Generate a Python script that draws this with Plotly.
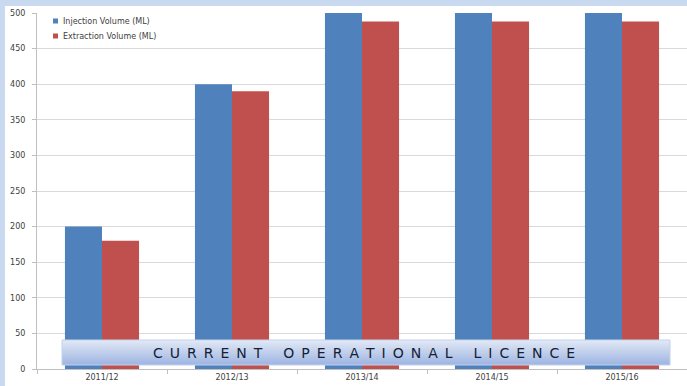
import plotly.graph_objects as go

categories = ["2011/12", "2012/13", "2013/14", "2014/15", "2015/16"]
injection = [200, 400, 500, 500, 500]
extraction = [180, 390, 488, 488, 488]
series_names = ["Injection Volume (ML)", "Extraction Volume (ML)"]
series_colors = ["#4f81bd", "#c0504d"]
banner_text = "CURRENT OPERATIONAL LICENCE"

W, H = 687, 386
ml, mr, mt, mb = 37, 0, 13, 17
pw = W - ml - mr
ph = H - mt - mb

def px_to_paper_x(px):
    return (px - ml) / pw

def px_to_paper_y(py):
    return (H - mb - py) / ph

fig = go.Figure()
for name, vals, col in zip(series_names, [injection, extraction], series_colors):
    fig.add_trace(go.Bar(x=categories, y=vals, name=name, showlegend=False,
                         marker=dict(color=col, line=dict(width=0))))

shapes = []
annotations = []
# light blue frame on left and top
frame_col = "#c9d9f0"
shapes.append(dict(type="rect", xref="paper", yref="paper",
                   x0=px_to_paper_x(0), x1=px_to_paper_x(5),
                   y0=px_to_paper_y(H), y1=px_to_paper_y(0),
                   fillcolor=frame_col, line=dict(width=0), layer="below"))
shapes.append(dict(type="rect", xref="paper", yref="paper",
                   x0=px_to_paper_x(0), x1=px_to_paper_x(W),
                   y0=px_to_paper_y(6), y1=px_to_paper_y(0),
                   fillcolor=frame_col, line=dict(width=0), layer="below"))

# legend (small squares + text)
for i, (name, col) in enumerate(zip(series_names, series_colors)):
    cy = 21 + 15 * i
    shapes.append(dict(type="rect", xref="paper", yref="paper",
                       x0=px_to_paper_x(53), x1=px_to_paper_x(58),
                       y0=px_to_paper_y(cy + 2.5), y1=px_to_paper_y(cy - 2.5),
                       fillcolor=col, line=dict(width=0)))
    annotations.append(dict(text=name, xref="paper", yref="paper",
                            x=px_to_paper_x(61), y=px_to_paper_y(cy),
                            xanchor="left", yanchor="middle", showarrow=False,
                            font=dict(size=8, color="#404040",
                                      family="DejaVu Sans, Arial, sans-serif")))

# banner gradient
bx0, bx1 = px_to_paper_x(62), px_to_paper_x(670)
by_top, by_bot = 340, 365
top_rgb = (224, 232, 246)
bot_rgb = (160, 182, 226)
n = 14
for i in range(n):
    t = i / (n - 1)
    c = tuple(int(top_rgb[k] + (bot_rgb[k] - top_rgb[k]) * t) for k in range(3))
    y0p = by_top + (by_bot - by_top) * i / n
    shapes.append(dict(type="rect", xref="paper", yref="paper",
                       x0=bx0, x1=bx1, y0=px_to_paper_y(by_bot), y1=px_to_paper_y(y0p),
                       fillcolor="rgb(%d,%d,%d)" % c, line=dict(width=0), layer="above"))
shapes.append(dict(type="rect", xref="paper", yref="paper",
                   x0=bx0, x1=bx1, y0=px_to_paper_y(by_bot), y1=px_to_paper_y(by_top),
                   fillcolor="rgba(0,0,0,0)", line=dict(width=1, color="#c3d1ea"), layer="above"))

letter_sep = "\u2002"
word_sep = "\u2002\u2002\u2002"
spaced = word_sep.join(letter_sep.join(list(w)) for w in banner_text.split(" "))
annotations.append(dict(text=spaced, xref="paper", yref="paper",
                        x=px_to_paper_x(364), y=px_to_paper_y(353),
                        xanchor="center", yanchor="middle", showarrow=False,
                        font=dict(size=14, color="#141e36",
                                  family="DejaVu Sans, Arial, sans-serif")))

fig.update_layout(
    width=W, height=H,
    margin=dict(l=ml, r=mr, t=mt, b=mb, pad=0),
    paper_bgcolor="white", plot_bgcolor="white",
    barmode="group", bargap=0.43, bargroupgap=0,
    font=dict(family="DejaVu Sans, Arial, sans-serif", size=8, color="#404040"),
    shapes=shapes,
    annotations=annotations,
    xaxis=dict(showline=True, linecolor="#bfbfbf", linewidth=1,
               ticks="outside", tickson="boundaries", ticklen=4, tickcolor="#bfbfbf",
               tickfont=dict(size=8, color="#404040"), showgrid=False),
    yaxis=dict(range=[0, 500], dtick=50, showline=True, linecolor="#bfbfbf", linewidth=1,
               ticks="outside", ticklen=4, tickcolor="#bfbfbf",
               gridcolor="#d9d9d9", gridwidth=1, ticklabelstandoff=5,
               tickfont=dict(size=8, color="#404040"), zeroline=False),
)

fig.write_html("out.html")
